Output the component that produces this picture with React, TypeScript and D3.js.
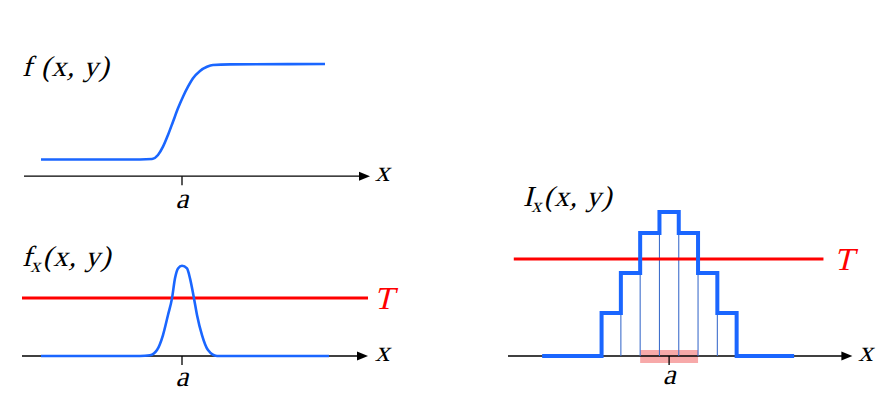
import { useEffect, useRef } from "react";
import * as d3 from "d3";

// f(x, y): smooth step (x in units, a = 0)
const stepX = [-14.1, -4.2, -3.0, -2.4, -1.9, -1.4, -0.9, -0.4, 0.1, 0.6, 1.1, 1.8, 2.5, 3.1, 4.8, 14.3];
const stepY = [0, 0, 0.005, 0.047, 0.134, 0.257, 0.396, 0.536, 0.657, 0.762, 0.85, 0.927, 0.971, 0.99, 0.996, 1];

// f_x(x, y): derivative peak, bottom-left panel
const peakX = [-14.1, -4.2, -3.2, -2.5, -1.9, -1.4, -1.0, -0.7, -0.4, 0.0, 0.5, 0.8, 1.2, 1.5, 2.0, 2.6, 3.5, 14.7];
const peakY = [0, 0, 0.008, 0.066, 0.232, 0.454, 0.638, 0.86, 0.97, 1, 0.97, 0.86, 0.638, 0.454, 0.232, 0.066, 0, 0];
const thresholdLeft = 0.642;

// I_x(x, y): pixel intensities, right panel (bins centred on -3..3)
const binCenters = [-3, -2, -1, 0, 1, 2, 3];
const binValues = [43, 83, 123, 144, 123, 83, 43];
const thresholdRight = 97;
const flatStart = -6.58;
const flatEnd = 6.48;

const blue = "#1a66ff";
const thinBlue = "#3f6fcc";
const red = "#ff0000";
// no serif italic face is installed, so slant the upright one
const font = "Liberation Serif";

const App = () => {
  const svgRef = useRef<SVGSVGElement>(null);

  useEffect(() => {
    if (!svgRef.current) return;
    const svg = d3.select(svgRef.current);
    svg.selectAll("*").remove();

    const arrow = (g: any, x0: number, x1: number, y: number) => {
      g.append("line")
        .attr("x1", x0)
        .attr("x2", x1 - 8)
        .attr("y1", y)
        .attr("y2", y)
        .attr("stroke", "#000")
        .attr("stroke-width", 1.3);
      g.append("path")
        .attr("d", `M${x1},${y} L${x1 - 11},${y - 4.5} L${x1 - 11},${y + 4.5} Z`)
        .attr("fill", "#000");
    };

    const tick = (g: any, x: number, y: number) => {
      g.append("line")
        .attr("x1", x)
        .attr("x2", x)
        .attr("y1", y)
        .attr("y2", y + 9)
        .attr("stroke", "#000")
        .attr("stroke-width", 1.3);
    };

    const italic = (g: any, x: number, y: number, txt: string, size: number, color = "#000") =>
      g.append("g")
        .attr("transform", `translate(${x},${y}) skewX(-14)`)
        .append("text")
        .attr("font-family", font)
        .attr("font-size", size)
        .attr("fill", color)
        .text(txt);

    // ---------- left panels ----------
    const xL = d3.scaleLinear().domain([-16, 19]).range([22, 372]);
    const yTop = d3.scaleLinear().domain([0, 1]).range([159.5, 64]);
    const yBot = d3.scaleLinear().domain([0, 1]).range([356, 265.7]);

    const top = svg.append("g");
    const topAxisY = yTop(-0.175);
    arrow(top, xL(-15.8), xL(18.8), topAxisY);
    tick(top, xL(0), topAxisY);
    top.append("path")
      .attr("d", d3.line<number>().x((d) => xL(d)).y((_, i) => yTop(stepY[i])).curve(d3.curveMonotoneX)(stepX))
      .attr("fill", "none")
      .attr("stroke", blue)
      .attr("stroke-width", 2.6);
    italic(top, xL(0), topAxisY + 32, "a", 29).attr("text-anchor", "middle");
    italic(top, xL(19.3), topAxisY + 5, "x", 29);
    italic(top, 22, 76, "f (x, y)", 29).attr("letter-spacing", 1);

    const bot = svg.append("g");
    const botAxisY = yBot(0);
    arrow(bot, xL(-16), xL(18.6), botAxisY);
    tick(bot, xL(0), botAxisY);
    bot.append("line")
      .attr("x1", xL(-16))
      .attr("x2", xL(18.6))
      .attr("y1", yBot(thresholdLeft))
      .attr("y2", yBot(thresholdLeft))
      .attr("stroke", red)
      .attr("stroke-width", 3);
    bot.append("path")
      .attr("d", d3.line<number>().x((d) => xL(d)).y((_, i) => yBot(peakY[i])).curve(d3.curveMonotoneX)(peakX))
      .attr("fill", "none")
      .attr("stroke", blue)
      .attr("stroke-width", 2.6);
    italic(bot, xL(0), botAxisY + 30, "a", 29).attr("text-anchor", "middle");
    italic(bot, xL(19.3), botAxisY + 5, "x", 29);
    italic(bot, xL(19.2), yBot(thresholdLeft) + 11, "T", 32, red);
    const fx = italic(bot, 22, 266, "f", 29);
    fx.append("tspan").attr("font-size", 20).attr("dy", 6).text("x");
    fx.append("tspan").attr("dy", -6).attr("dx", 1).attr("letter-spacing", 1).text("(x, y)");

    // ---------- right panel ----------
    const xR = d3.scaleLinear().domain([-8.35, 9.5]).range([508, 852.4]);
    const yR = d3.scaleLinear().domain([0, 144]).range([356, 212]);
    const right = svg.append("g");

    right.append("rect")
      .attr("x", xR(-1.5))
      .attr("width", xR(1.5) - xR(-1.5))
      .attr("y", yR(6))
      .attr("height", yR(-7) - yR(6))
      .attr("fill", "#f7a9a9");

    arrow(right, xR(-8.35), xR(9.5), yR(0));
    tick(right, xR(0), yR(0));

    // thin bin edges
    const edges = binCenters.slice(0, -1).map((c, i) => ({
      x: c + 0.5,
      h: Math.min(binValues[i], binValues[i + 1]),
    }));
    right.selectAll(".edge")
      .data(edges)
      .join("line")
      .attr("class", "edge")
      .attr("x1", (d) => xR(d.x))
      .attr("x2", (d) => xR(d.x))
      .attr("y1", yR(0))
      .attr("y2", (d) => yR(d.h))
      .attr("stroke", thinBlue)
      .attr("stroke-width", 1.1);

    right.append("line")
      .attr("x1", xR(-8.05))
      .attr("x2", xR(8.0))
      .attr("y1", yR(thresholdRight))
      .attr("y2", yR(thresholdRight))
      .attr("stroke", red)
      .attr("stroke-width", 3);

    const outline: [number, number][] = [
      [flatStart, 0],
      ...binCenters.map((c, i) => [c - 0.5, binValues[i]] as [number, number]),
      [binCenters[binCenters.length - 1] + 0.5, 0],
      [flatEnd, 0],
    ];
    right.append("path")
      .attr("d", d3.line<[number, number]>().x((d) => xR(d[0])).y((d) => yR(d[1])).curve(d3.curveStepAfter)(outline))
      .attr("fill", "none")
      .attr("stroke", blue)
      .attr("stroke-width", 4);

    italic(right, xR(0), yR(0) + 28, "a", 29).attr("text-anchor", "middle");
    italic(right, xR(9.8), yR(0) + 5, "x", 29);
    italic(right, xR(8.55), yR(thresholdRight) + 11, "T", 32, red);
    const ix = italic(right, 523, 206, "I", 29);
    ix.append("tspan").attr("font-size", 20).attr("dy", 6).text("x");
    ix.append("tspan").attr("dy", -6).attr("dx", 1).attr("letter-spacing", 1).text("(x, y)");
  }, []);

  return (
    <svg
      ref={svgRef}
      width={896}
      height={417}
      style={{ position: "absolute", left: 0, top: 0, background: "#fff" }}
    ></svg>
  );
};

export default App;
